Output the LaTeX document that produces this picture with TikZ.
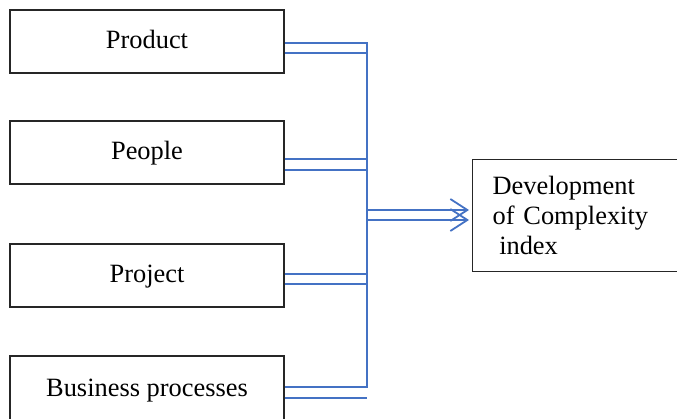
\documentclass[tikz,border=0pt]{standalone}
\usepackage{fontspec}
\setmainfont{Liberation Serif}
\usetikzlibrary{arrows.meta}
\definecolor{linkblue}{HTML}{4472C4}

\begin{document}
\begin{tikzpicture}[x=1pt,y=-1pt,
  factor/.style={draw=black!85,line width=1.3pt,minimum width=274pt,
    minimum height=63pt,inner sep=0pt,text height=23pt,text depth=9pt,
    font=\fontsize{26.4}{30}\selectfont},
  link/.style={draw=linkblue,line width=1.2pt},
  feed/.style={draw=linkblue,line width=1.8pt,
    -{Straight Barb[length=17pt,width=22pt]}}]

\useasboundingbox (0,0) rectangle (677,419);

% ===== Boites de gauche =====
\node[factor] (prod) at (147,41.5) {Product};
\node[factor] (peop) at (147,152.5) {People};
\node[factor] (proj) at (147,275.5) {Project};
\node[factor,minimum height=66pt] (busi) at (147,389) {Business processes};

% ===== Boite de droite =====
\node[draw=black!85,line width=1.3pt,anchor=north west,text width=188pt,
  inner xsep=20pt,inner ysep=0pt,minimum height=112pt,align=left,
  font=\fontsize{26.4}{30}\selectfont] (idx) at (472,159)
  {Development\\of Complexity\\\hspace*{6.6pt}index};

% ===== Bus vertical =====
\coordinate (top) at (367,43);
\coordinate (bot) at (367,387);

\draw[link] (prod.east |- top) -- (top) -- (bot) -- (busi.east |- bot);
\draw[link] (prod.east |- 0,53) -- (top |- 0,53);
\draw[link] (peop.east |- 0,159) -- (top |- 0,159);
\draw[link] (peop.east |- 0,170) -- (top |- 0,170);
\draw[link] (proj.east |- 0,274) -- (top |- 0,274);
\draw[link] (proj.east |- 0,284) -- (top |- 0,284);
\draw[link] (busi.east |- 0,398) -- (top |- 0,398);

% ===== Fleches vers l'indice =====
\draw[feed] (top |- 0,210) -- ([xshift=-3pt]idx.west |- 0,210);
\draw[feed] (top |- 0,220) -- ([xshift=-3pt]idx.west |- 0,220);

\end{tikzpicture}
\end{document}
